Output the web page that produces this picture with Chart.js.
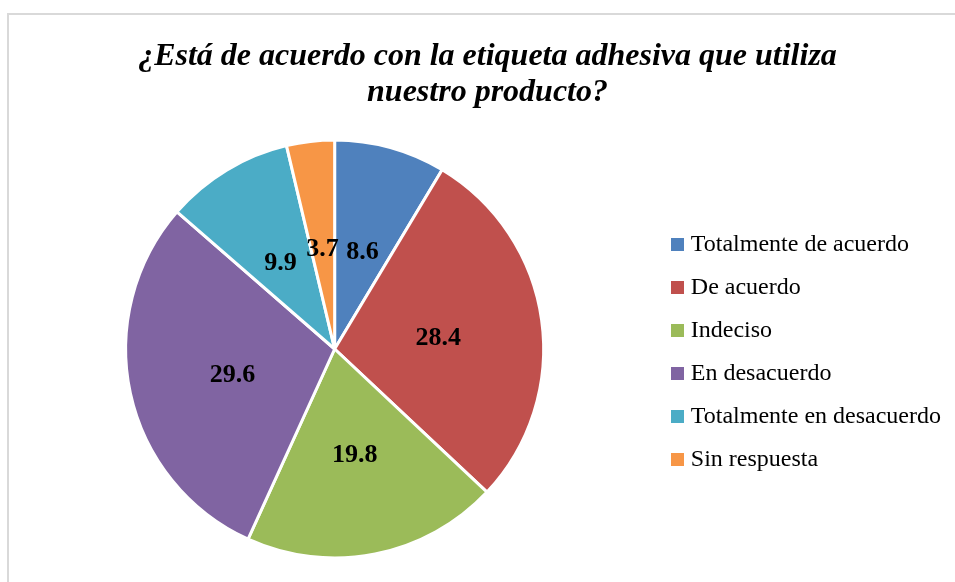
<!DOCTYPE html>
<html>
<head>
<meta charset="utf-8">
<script src="https://cdn.jsdelivr.net/npm/chart.js@4/dist/chart.umd.min.js"></script>
<style>
  html, body { margin: 0; padding: 0; background: #ffffff; }
  #wrap { position: relative; width: 955px; height: 582px; overflow: hidden; background: #ffffff; }
  #frame { position: absolute; left: 7px; top: 13px; width: 1000px; height: 1000px;
           border-left: 2px solid #d9d9d9; border-top: 2px solid #d9d9d9; box-sizing: border-box; }
  #c { position: absolute; left: 0; top: 0; }
</style>
</head>
<body>
<div id="wrap">
  <div id="frame"></div>
  <canvas id="c" width="955" height="582"></canvas>
</div>
<script>
const titleLines = ["¿Está de acuerdo con la etiqueta adhesiva que utiliza", "nuestro producto?"];
const categories = ["Totalmente de acuerdo", "De acuerdo", "Indeciso", "En desacuerdo", "Totalmente en desacuerdo", "Sin respuesta"];
const values = [8.6, 28.4, 19.8, 29.6, 9.9, 3.7];
const colors = ["#4F81BD", "#C0504D", "#9BBB59", "#8064A2", "#4BACC6", "#F79646"];

function swatch(color) {
  const c = document.createElement('canvas');
  c.width = 13; c.height = 13;
  const x = c.getContext('2d');
  x.fillStyle = color;
  x.fillRect(0, 0, 13, 13);
  return c;
}

const dataLabels = {
  id: 'dataLabels',
  afterDatasetsDraw(chart) {
    const ctx = chart.ctx;
    const meta = chart.getDatasetMeta(0);
    ctx.save();
    ctx.font = "bold 26px 'Liberation Serif'";
    ctx.fillStyle = "#000000";
    ctx.textAlign = "center";
    ctx.textBaseline = "middle";
    meta.data.forEach((arc, i) => {
      const p = arc.tooltipPosition();
      ctx.fillText(String(chart.data.datasets[0].data[i]), p.x, p.y + 4);
    });
    ctx.restore();
  }
};

// centre the title over the whole chart frame (as in the original chart area)
const titleSpan = {
  id: 'titleSpan',
  afterLayout(chart) {
    if (chart.titleBlock) {
      chart.titleBlock.left = 20;
      chart.titleBlock.right = 955;
    }
  }
};

new Chart(document.getElementById('c'), {
  type: 'pie',
  data: {
    labels: categories,
    datasets: [{
      data: values,
      backgroundColor: colors,
      borderColor: "#ffffff",
      borderWidth: 3,
      hoverOffset: 0
    }]
  },
  options: {
    responsive: false,
    animation: false,
    layout: { padding: { left: 11.5, right: 4, top: 0, bottom: 22.5 } },
    plugins: {
      tooltip: { enabled: false },
      title: {
        display: true,
        text: titleLines,
        color: "#000000",
        font: { family: "'Liberation Serif'", size: 32, weight: 'bold', style: 'italic', lineHeight: 1.125 },
        padding: { top: 38.5, bottom: 28 }
      },
      legend: {
        position: 'right',
        fullSize: false,
        title: { display: true, text: '', font: { size: 5, lineHeight: 1.2 }, padding: 0 },
        labels: {
          color: "#000000",
          font: { family: "'Liberation Serif'", size: 24 },
          padding: 19,
          usePointStyle: true,
          pointStyleWidth: 2,
          boxHeight: 13,
          generateLabels(chart) {
            const items = Chart.overrides.pie.plugins.legend.labels.generateLabels(chart);
            items.forEach((it, i) => { it.pointStyle = swatch(colors[i]); it.lineWidth = 0; });
            return items;
          }
        }
      }
    }
  },
  plugins: [dataLabels, titleSpan]
});
</script>
</body>
</html>
